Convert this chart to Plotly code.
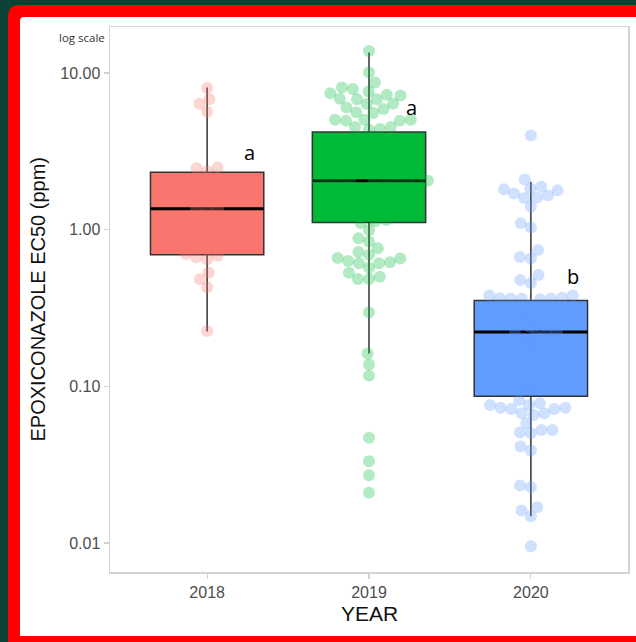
import numpy as np
import plotly.graph_objects as go

# ---------------- data ----------------
years = ["2018", "2019", "2020"]
fill_colors = ["#F8766D", "#00BA38", "#619CFF"]
letters = ["a", "a", "b"]
letter_y = [3.1, 6.0, 0.5]

q1 = [0.69, 1.11, 0.0863]
median = [1.36, 2.05, 0.222]
q3 = [2.32, 4.19, 0.353]
lower = [0.224, 0.162, 0.0148]
upper = [8.06, 13.5, 2.02]

ec50_2018 = [8.0, 6.8, 6.35, 5.65,
             2.5, 2.36, 2.46,
             1.35, 1.33, 1.37, 1.0, 1.7, 0.85,
             0.647, 0.68, 0.665, 0.70, 0.532, 0.483, 0.428, 0.225]

ec50_2019 = [13.8, 10.1, 8.68, 8.07, 7.9, 7.6, 7.43, 7.25, 7.17, 6.84, 6.8, 6.8,
             6.35, 6.33, 6.02, 5.88, 5.6, 5.55, 5.03, 5.03, 5.03, 4.96, 4.96,
             4.52, 4.52, 4.39, 4.34,
             3.9, 3.6, 3.2, 2.9, 2.6, 2.3,
             2.04, 1.99, 2.0, 2.02, 2.05, 2.0, 2.03, 1.98, 2.01, 2.0,
             1.85, 1.7, 1.55, 1.4, 1.25, 1.15,
             1.1, 1.13, 0.99, 0.88, 0.84, 0.76, 0.69, 0.72, 0.655, 0.66, 0.618,
             0.61, 0.63, 0.61, 0.57, 0.53, 0.484, 0.484, 0.5, 0.297,
             0.162, 0.138, 0.117, 0.047, 0.0333, 0.0271, 0.0209]

ec50_2020 = [3.98,
             2.09, 1.78, 1.82, 1.81, 1.88, 1.70, 1.59, 1.65, 1.60, 1.40,
             1.10, 1.03,
             0.74, 0.655, 0.668,
             0.513, 0.477, 0.457,
             0.364, 0.362, 0.38, 0.365, 0.38, 0.364, 0.36, 0.368, 0.312, 0.31,
             0.33, 0.30, 0.28, 0.26, 0.24, 0.22, 0.22, 0.22, 0.21, 0.20, 0.18,
             0.16, 0.14, 0.12, 0.11, 0.10, 0.095,
             0.0816, 0.073, 0.073, 0.0759, 0.0759, 0.0716, 0.078,
             0.0672, 0.0655, 0.0716, 0.0672,
             0.058, 0.0526, 0.0507, 0.0501, 0.0526, 0.0413, 0.039,
             0.0233, 0.0227, 0.0169, 0.0161, 0.0148, 0.00955]

all_values = [ec50_2018, ec50_2019, ec50_2020]

# ---------------- layout geometry ----------------
W, H = 636, 642
ML, MR, MT, MB = 110, 8, 27, 70
PW, PH = W - ML - MR, H - MT - MB
X_RANGE = [-0.6, 2.6]
Y_RANGE = [-2.185, 1.293]
X_PX = PW / (X_RANGE[1] - X_RANGE[0])
Y_PX = PH / (Y_RANGE[1] - Y_RANGE[0])


def swarm(values, d=11.0):
    """Beeswarm offsets (in category units) computed in pixel space."""
    vals = np.asarray(values, float)
    order = np.argsort(vals, kind="stable")
    ys = np.log10(vals) * Y_PX
    placed = []
    xs = np.zeros(len(vals))
    for idx in order:
        y = ys[idx]
        cands = [0.0]
        for px, py in placed:
            dy = y - py
            if abs(dy) < d:
                dx = np.sqrt(d * d - dy * dy)
                cands += [px + dx, px - dx]
        cands.sort(key=lambda c: (abs(c), c))
        chosen = cands[-1]
        for c in cands:
            if all((c - px) ** 2 + (y - py) ** 2 >= d * d - 1e-6 for px, py in placed):
                chosen = c
                break
        xs[idx] = chosen
        placed.append((chosen, y))
    return xs / X_PX


fig = go.Figure()
BOX_W = 0.7

for i, yr in enumerate(years):
    fig.add_trace(go.Box(
        x=[i], q1=[q1[i]], median=[median[i]], q3=[q3[i]],
        lowerfence=[lower[i]], upperfence=[upper[i]],
        width=BOX_W, whiskerwidth=0, boxpoints=False,
        fillcolor=fill_colors[i], line=dict(color="#333333", width=1.5),
        showlegend=False, hoverinfo="skip"))

for i, yr in enumerate(years):
    fig.add_trace(go.Scatter(
        x=[i - BOX_W / 2, i + BOX_W / 2], y=[median[i], median[i]],
        mode="lines", line=dict(color="#000000", width=3),
        showlegend=False, hoverinfo="skip"))

for i, yr in enumerate(years):
    vals = all_values[i]
    offs = swarm(vals)
    fig.add_trace(go.Scatter(
        x=i + offs, y=vals, mode="markers",
        marker=dict(size=12, color=fill_colors[i], opacity=0.3, line=dict(width=0)),
        showlegend=False, hoverinfo="skip"))

annotations = []
for i, lt in enumerate(letters):
    annotations.append(dict(
        x=i + 0.26, y=np.log10(letter_y[i]), xref="x", yref="y",
        text=lt, showarrow=False, font=dict(family="Open Sans", size=20, color="#000000"),
        xanchor="center", yanchor="middle"))


def fx(px):
    return (px - ML) / PW


def fy(py):
    return (H - MB - py) / PH


annotations += [
    dict(x=fx(107), y=fy(37), xref="paper", yref="paper", text="log scale",
         showarrow=False, xanchor="right", yanchor="middle",
         font=dict(family="Open Sans", size=11.5, color="#333333")),
    dict(x=0.5, y=fy(613), xref="paper", yref="paper", text="YEAR",
         showarrow=False, xanchor="center", yanchor="middle",
         font=dict(family="Liberation Sans", size=21, color="#111111")),
    dict(x=fx(37), y=0.5, xref="paper", yref="paper", text="EPOXICONAZOLE EC50 (ppm)",
         showarrow=False, xanchor="center", yanchor="middle", textangle=-90,
         font=dict(family="Liberation Sans", size=20, color="#111111")),
]


def rounded_rect(x0, y0, x1, y1, r):
    return (f"M {fx(x0)},{fy(y1)} L {fx(x0)},{fy(y0 + r)} "
            f"Q {fx(x0)},{fy(y0)} {fx(x0 + r)},{fy(y0)} "
            f"L {fx(x1)},{fy(y0)} L {fx(x1)},{fy(y1)} Z")


shapes = [
    dict(type="path", path=rounded_rect(8, 5, 660, 660, 12), xref="paper", yref="paper",
         fillcolor="#FF0000", line=dict(width=0), layer="below"),
    dict(type="path", path=rounded_rect(20, 17, 660, 636, 4), xref="paper", yref="paper",
         fillcolor="#FFFFFF", line=dict(width=0), layer="below"),
]

axis_common = dict(showgrid=False, zeroline=False, showline=True, mirror=True,
                   linecolor="#d4d4d4", linewidth=1.5, ticks="outside", ticklen=5,
                   tickcolor="#d4d4d4", tickwidth=1.2,
                   tickfont=dict(family="Liberation Sans", size=16, color="#4d4d4d"))

fig.update_layout(
    width=W, height=H,
    margin=dict(l=ML, r=MR, t=MT, b=MB, autoexpand=False),
    paper_bgcolor="#0b4236", plot_bgcolor="rgba(0,0,0,0)",
    xaxis=dict(range=X_RANGE, tickvals=[0, 1, 2], ticktext=years, **axis_common),
    yaxis=dict(type="log", range=Y_RANGE, tickvals=[0.01, 0.1, 1, 10],
               ticktext=["0.01", "0.10", "1.00", "10.00"], **axis_common),
    annotations=annotations, shapes=shapes, hovermode=False, showlegend=False,
)

fig.write_html(
    "out.html",
    config={"displayModeBar": False, "staticPlot": True},
    post_script="document.body.style.margin='0';document.body.style.overflow='hidden';"
                "document.body.style.background='#0b4236';",
)
